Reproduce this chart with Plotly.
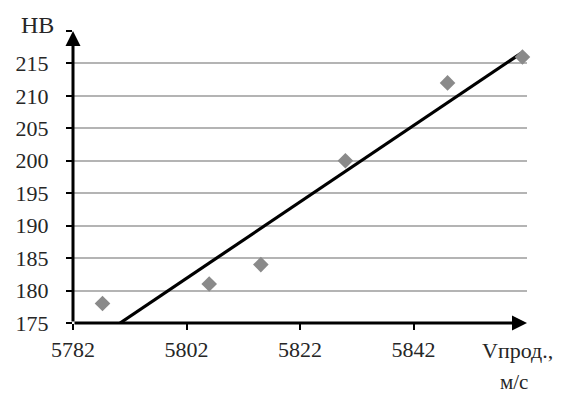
import plotly.graph_objects as go

# Data
speed = [5787.2, 5806.0, 5815.1, 5830.0, 5848.0, 5861.2]   # Vпрод., м/с
hardness = [178, 181, 184, 200, 212, 216]                 # HB
trend_x = [5790.3, 5861.0]
trend_y = [175.0, 216.6]
x_ticks = [5782, 5802, 5822, 5842]
y_ticks = [175, 180, 185, 190, 195, 200, 205, 210, 215, 220]
y_tick_text = ["175", "180", "185", "190", "195", "200", "205", "210", "215", ""]
x_range = [5782, 5862]
y_range = [175, 220]

FONT = "'Liberation Serif', 'Times New Roman', 'DejaVu Serif', serif"
TXT = "#262626"
tick_font = dict(family=FONT, size=22, color=TXT)

fig = go.Figure()
fig.add_trace(go.Scatter(
    x=trend_x, y=trend_y, mode="lines",
    line=dict(color="black", width=3.2), hoverinfo="skip", showlegend=False,
))
fig.add_trace(go.Scatter(
    x=speed, y=hardness, mode="markers",
    marker=dict(symbol="diamond", size=12, color="#8a8a8a"),
    showlegend=False, cliponaxis=False,
))

# Axes with arrows
fig.add_annotation(x=x_range[1], y=y_range[0], ax=x_range[0], ay=y_range[0],
                   xref="x", yref="y", axref="x", ayref="y", text="",
                   showarrow=True, arrowhead=2, arrowsize=1, arrowwidth=3,
                   arrowcolor="black")
fig.add_annotation(x=x_range[0], y=y_range[1], ax=x_range[0], ay=y_range[0],
                   xref="x", yref="y", axref="x", ayref="y", text="",
                   showarrow=True, arrowhead=2, arrowsize=1, arrowwidth=3,
                   arrowcolor="black")

fig.add_annotation(x=-0.079, y=1.02, xref="paper", yref="paper", text="HB",
                   showarrow=False, xanchor="center", yanchor="middle",
                   font=dict(family=FONT, size=24, color=TXT))
fig.add_annotation(x=0.978, y=-0.0925, xref="paper", yref="paper", text="Vпрод.,",
                   showarrow=False, xanchor="center", yanchor="middle",
                   font=dict(family=FONT, size=22, color=TXT))
fig.add_annotation(x=0.971, y=-0.203, xref="paper", yref="paper", text="м/с",
                   showarrow=False, xanchor="center", yanchor="middle",
                   font=dict(family=FONT, size=21, color=TXT))

fig.update_layout(
    width=562, height=394,
    margin=dict(l=73, r=35, t=31, b=71),
    paper_bgcolor="white", plot_bgcolor="white",
    font=dict(family=FONT, size=22, color=TXT),
    xaxis=dict(range=x_range, tickvals=x_ticks, ticks="outside", ticklen=6,
               tickwidth=2, tickcolor="black", showgrid=False, zeroline=False,
               showline=False, ticklabelstandoff=1, tickfont=tick_font,
               fixedrange=True),
    yaxis=dict(range=y_range, tickvals=y_ticks, ticktext=y_tick_text,
               ticks="outside", ticklen=6, tickwidth=2, tickcolor="black",
               showgrid=True, gridcolor="#b4b4b4", gridwidth=1.5,
               zeroline=False, showline=False, ticklabelstandoff=13,
               tickfont=tick_font, fixedrange=True),
)

fig.write_html("out.html")
